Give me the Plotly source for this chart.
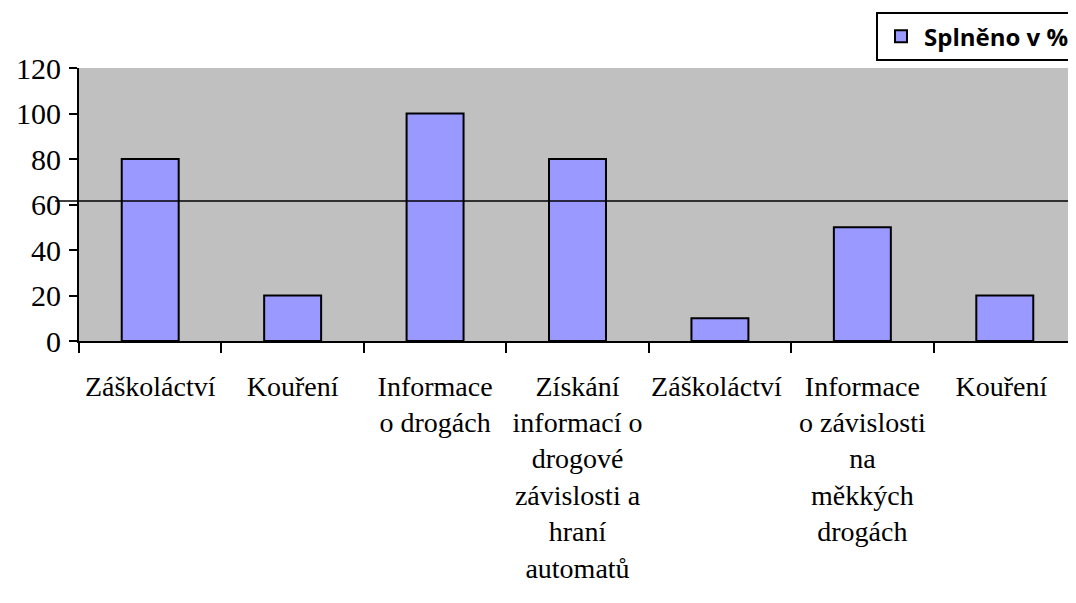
import plotly.graph_objects as go

categories = [
    "Záškoláctví",
    "Kouření",
    "Informace<br>o drogách",
    "Získání<br>informací o<br>drogové<br>závislosti a<br>hraní<br>automatů",
    "Záškoláctví ",
    "Informace<br>o závislosti<br>na<br>měkkých<br>drogách",
    "Kouření ",
]
values = [80, 20, 100, 80, 10, 50, 20]
threshold = 61.5
series_name = "Splněno v %"
y_ticks = [0, 20, 40, 60, 80, 100, 120]

SERIF = "Liberation Serif, Times New Roman, serif"

fig = go.Figure()
fig.add_trace(go.Bar(
    x=categories, y=values, name="<b>" + series_name + "</b>",
    marker=dict(color="#9999FF", line=dict(color="black", width=2)),
    showlegend=True,
))
fig.add_shape(type="line", xref="paper", yref="y", x0=-0.024, x1=1,
              y0=threshold, y1=threshold, line=dict(color="black", width=1.5))

# page body has an 8px offset; compensate so plot lands at the reference position
fig.update_layout(
    width=1068, height=595,
    margin=dict(l=71, r=0, t=60, b=262, autoexpand=False),
    paper_bgcolor="white", plot_bgcolor="#C0C0C0",
    bargap=0.6,
    font=dict(family=SERIF, color="black"),
    showlegend=True,
    legend=dict(x=1.0, xanchor="right", y=1.205, yanchor="top",
                bordercolor="black", borderwidth=2, bgcolor="white",
                font=dict(family="Open Sans", size=24, color="black"),
                itemwidth=36, tracegroupgap=0),
    xaxis=dict(type="category", showline=True, linecolor="black", linewidth=2,
               ticks="outside", tickson="boundaries", ticklen=10, tickwidth=2,
               tickcolor="black", tickfont=dict(family=SERIF, size=28, color="black"),
               tickangle=0, showgrid=False, automargin=False, ticklabelstandoff=19),
    yaxis=dict(range=[0, 120], tickvals=y_ticks, showline=True, linecolor="black",
               linewidth=2, ticks="outside", ticklen=8, tickwidth=2, tickcolor="black",
               tickfont=dict(family=SERIF, size=30, color="black"), showgrid=False,
               zeroline=False, automargin=False, ticklabelstandoff=2),
)
fig.write_html("out.html")
